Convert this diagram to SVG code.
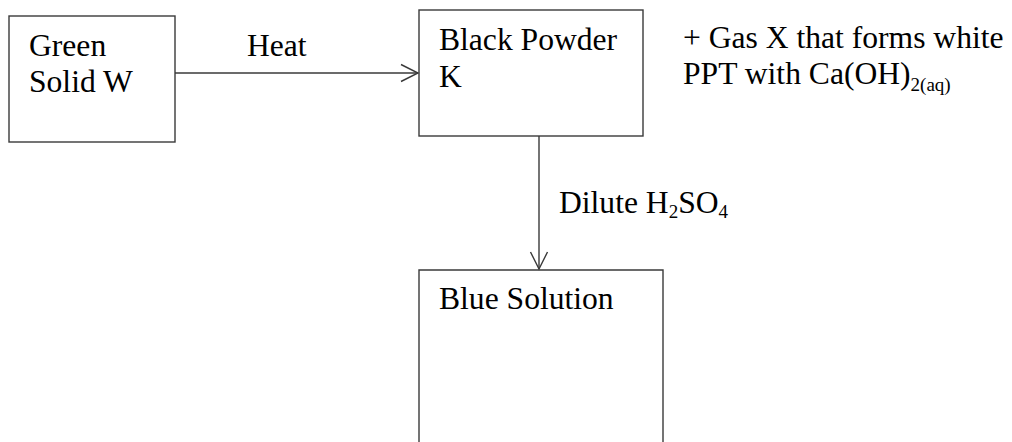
<svg xmlns="http://www.w3.org/2000/svg" width="1012" height="442" viewBox="0 0 1012 442">
  <style>
    .box { fill: none; stroke: #3a3a3a; stroke-width: 1.4; }
    .edge { fill: none; stroke: #3a3a3a; stroke-width: 1.4; }
    .head { fill: none; stroke: #3a3a3a; stroke-width: 1.4; stroke-linejoin: miter; }
    text { font-family: "Liberation Serif", "Times New Roman", serif; font-size: 31.6px; fill: #000; }
    .sub { font-size: 19px; }
  </style>
  <rect width="1012" height="442" fill="#fff"/>

  <g id="green-solid-w">
    <rect class="box" x="9" y="16" width="166" height="126"/>
    <text x="29" y="56">Green</text>
    <text x="29" y="92">Solid W</text>
  </g>

  <g id="black-powder-k">
    <rect class="box" x="419" y="10" width="224" height="126"/>
    <text x="439" y="50">Black Powder</text>
    <text x="439" y="87">K</text>
  </g>

  <g id="gas-x-note">
    <text x="683" y="48">+ Gas X that forms white</text>
    <text x="683" y="84">PPT with Ca(OH)<tspan class="sub" dy="7">2(aq)</tspan></text>
  </g>

  <g id="blue-solution">
    <path class="box" d="M419 442 V270 H663 V442"/>
    <text x="439" y="309">Blue Solution</text>
  </g>

  <g id="connectors">
    <line class="edge" x1="175" y1="73" x2="418" y2="73"/>
    <polyline class="head" points="401,64.5 418,73 401,81.5"/>
    <text x="247" y="56">Heat</text>

    <line class="edge" x1="539" y1="136" x2="539" y2="269"/>
    <polyline class="head" points="530.5,252 539,269 547.5,252"/>
    <text x="559" y="213">Dilute H<tspan class="sub" dy="5">2</tspan><tspan dy="-5">SO</tspan><tspan class="sub" dy="5">4</tspan></text>
  </g>
</svg>
